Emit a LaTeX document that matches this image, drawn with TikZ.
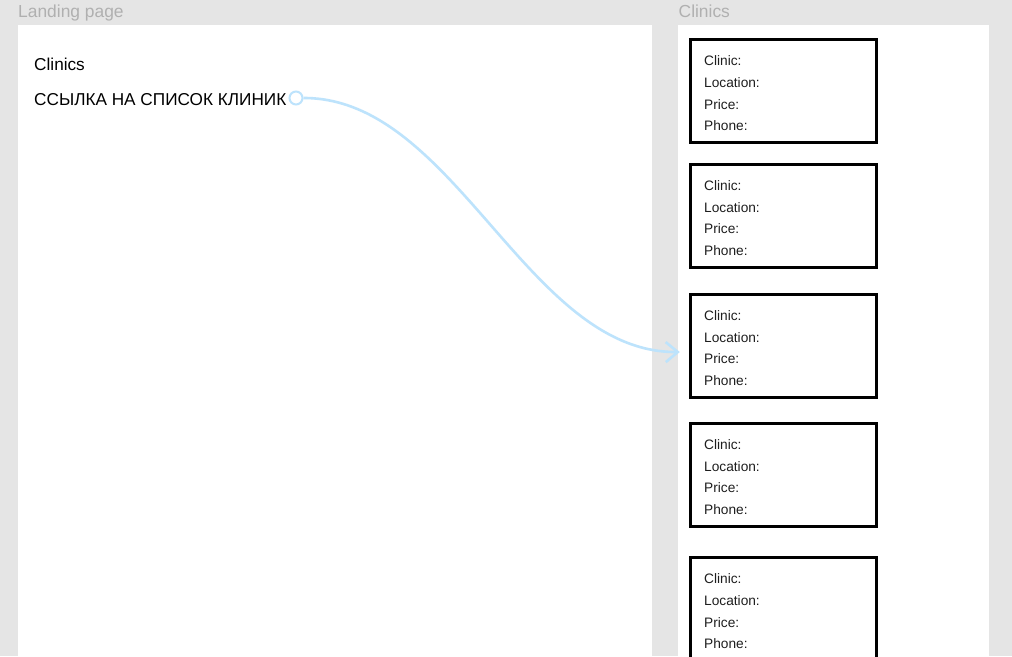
\documentclass[tikz,border=0pt]{standalone}
\usepackage{fontspec}
\setmainfont{Liberation Sans}
\usetikzlibrary{arrows.meta}
\definecolor{bgray}{RGB}{229,229,229}
\definecolor{hgray}{RGB}{176,176,176}
\definecolor{linkblue}{RGB}{189,227,252}
\definecolor{cardtext}{RGB}{30,30,30}
\tikzset{
  header/.style={anchor=base west, inner sep=0pt, text=hgray, font=\fontsize{17.4}{19}\selectfont},
  pagetext/.style={anchor=base west, inner sep=0pt, text=black, font=\fontsize{17.2}{19}\selectfont},
  card/.style={draw=black, line width=3pt, fill=white, anchor=north west, inner sep=0pt, outer sep=0pt, minimum width=185.5pt, minimum height=103pt},
  cardline/.style={anchor=base west, inner sep=0pt, text=cardtext, font=\fontsize{13.7}{15}\selectfont},
  link/.style={draw=linkblue, line width=2.6pt},
}
\begin{document}
\begin{tikzpicture}[x=1pt,y=-1pt]
\useasboundingbox (0,0) rectangle (1012,656);
\clip (0,0) rectangle (1012,656);
\fill[bgray] (0,0) rectangle (1012,656);
% frames
\fill[white] (17.5,25) rectangle (651.5,660);
\fill[white] (678.3,24.5) rectangle (989,660);
% headers
\node[header] (h1) at (18,17) {Landing page};
\node[header] (h2) at (678.5,17) {Clinics};
% landing page content
\node[pagetext] (t1) at (34,70.5) {Clinics};
\node[pagetext] (t2) at (34,105) {ССЫЛКА НА СПИСОК КЛИНИК};
\node[circle, draw=linkblue, line width=2pt, fill=white, minimum size=13pt, inner sep=0pt] (dot) at (296,98) {};
% cards
\foreach \i/\y in {1/39.7, 2/164.5, 3/294.5, 4/423.5, 5/557.7} {
  \node[card] (c\i) at (690.8,\y) {};
  \node[cardline] (c\i a) at (704,\y+25.8) {Clinic:};
  \node[cardline] (c\i b) at (704,\y+47.8) {Location:};
  \node[cardline] (c\i c) at (704,\y+69.3) {Price:};
  \node[cardline] (c\i d) at (704,\y+91) {Phone:};
}
% connector
\coordinate (tip) at ([xshift=-11pt,yshift=-6pt]c3.west);
\draw[link, -{Straight Barb[length=12pt,width=20pt,line width=2.6pt]}] (dot.east) .. controls (455,97.5) and (527,353) .. (tip);
\end{tikzpicture}
\end{document}
